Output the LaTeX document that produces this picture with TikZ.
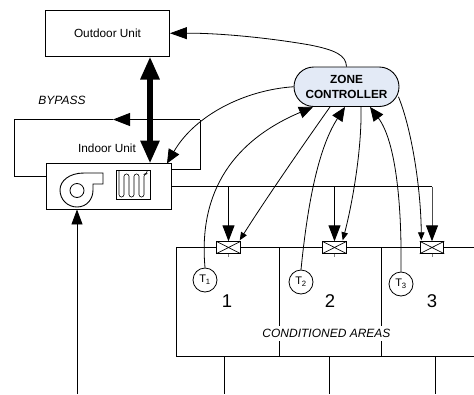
\documentclass[tikz,border=0pt]{standalone}
\usepackage{fontspec}
\setmainfont{Liberation Sans}
\usetikzlibrary{arrows.meta,calc,shapes.misc}
\definecolor{ctrlfill}{HTML}{E3EAF6}
\tikzset{
  box/.style={draw,line width=0.9pt,inner sep=0pt,fill=white},
  valve/.style={box,minimum width=23.5pt,minimum height=11.5pt,append after command={
    (\tikzlastnode.north west) edge[line width=.7pt] (\tikzlastnode.south east)
    (\tikzlastnode.south west) edge[line width=.7pt] (\tikzlastnode.north east)
    (\tikzlastnode.south) edge[line width=.6pt,gray] +(0,3.5)}},
  sensor/.style={circle,draw,line width=.8pt,minimum size=24pt,inner sep=0pt,fill=white,font=\fontsize{11}{11}\selectfont},
  wire/.style={line width=.9pt},
  big/.style={-{Triangle[length=16pt,width=12pt]},line width=.9pt},
  sig/.style={line width=.8pt,-{Triangle[length=14pt,width=12pt]}},
  small sig/.style={line width=.8pt,-{Triangle[length=8pt,width=6.5pt]}},
  lab/.style={font=\fontsize{11.8}{13}\selectfont},
  num/.style={font=\fontsize{18.5}{20}\selectfont},
  ital/.style={font=\fontsize{12}{13}\selectfont\itshape}
}
\begin{document}
\begin{tikzpicture}[x=1pt,y=-1pt]
\useasboundingbox (0,0) rectangle (474,394);
% areas
\draw[wire] (474,247.5) -- (176.5,247.5) -- (176.5,356) -- (474,356);
\coordinate (d1t) at (279,247.5);
\coordinate (d1b) at (279,356);
\coordinate (d2t) at (381,247.5);
\coordinate (d2b) at (381,356);
\draw[wire] (d1t) -- (d1b);
\draw[wire] (d2t) -- (d2b);
\draw[wire] (224.5,356) -- (224.5,394);
\draw[wire] (329.5,356) -- (329.5,394);
\draw[wire] (435,356) -- (435,394);
\node[ital,fill=white,inner xsep=1pt,inner ysep=3pt] (ca) at (326.5,333.5) {CONDITIONED AREAS};
% units
\node[box,minimum width=124.5pt,minimum height=45.5pt] (outdoor) at (107.25,33.25) {};
\node[lab] (outlab) at (107.5,33) {Outdoor Unit};
\node[box,minimum width=124.5pt,minimum height=45.5pt] (indoor) at (108.75,186.25) {};
\node[lab] (inlab) at (107,148) {Indoor Unit};
\node[ital] (bp) at (62,100) {BYPASS};
% bypass
\coordinate (bp1) at (200,169);
\coordinate (bp2) at (200,119.5);
\coordinate (bp3) at (113,119.5);
\coordinate (bp4) at (14,119.5);
\coordinate (bp5) at (14,176.5);
\draw[wire] (indoor.east |- bp1) -- (bp1) -- (bp2);
\draw[line width=.9pt,-{Triangle[length=17pt,width=13pt]}] (bp2) -- (bp3);
\draw[wire] (bp3) -- (bp4) -- (bp5) -- (indoor.west |- bp5);
% refrigerant
\draw[line width=6pt,{Triangle[length=23pt,width=18pt]}-{Triangle[length=23pt,width=18pt]}] (150,56.5) -- (150,163.5);
% fan
\draw[line width=.9pt] (103,173) -- (84,173) .. controls (69,173) and (60,181) .. (60,190)
  .. controls (60,200) and (68,207) .. (77,207) .. controls (87,207) and (93,199) .. (93,190)
  -- (93,184) -- (103,184) -- cycle;
\node[circle,draw,line width=.8pt,minimum size=14pt,inner sep=0pt] (fanhub) at (77,190.5) {};
% coil
\node[box,minimum width=34pt,minimum height=29pt] (coil) at (133,184.5) {};
\draw[line width=.6pt,rounded corners=2.4pt] (119,170) -- (119,197) -- (124,197) -- (124,174) -- (129,174)
 -- (129,197) -- (134,197) -- (134,174) -- (139,174) -- (139,197) -- (144,197) -- (144,174) -- (147,174) -- (147,170);
% controller
\node[box,rounded rectangle,fill=ctrlfill,minimum width=105pt,minimum height=39.5pt,align=center,
  font=\fontsize{11.8}{15}\selectfont\bfseries] (ctrl) at (346.5,86.75) {ZONE\\CONTROLLER};
% valves
\node[valve] (v1) at (228.5,247.5) {};
\node[valve] (v2) at (334.5,247.5) {};
\node[valve] (v3) at (432,247.5) {};
% sensors
\node[sensor] (t1) at (205,280) {T\textsubscript{1}};
\node[sensor] (t2) at (301,282) {T\textsubscript{2}};
\node[sensor] (t3) at (401,284) {T\textsubscript{3}};
\node[num] (n1) at (227,301) {1};
\node[num] (n2) at (330,301) {2};
\node[num] (n3) at (432,301) {3};
% supply duct
\coordinate (s0) at (432,186.5);
\draw[wire] (indoor.east |- s0) -- (s0);
\draw[big] (v1.north |- s0) -- (v1.north);
\draw[big] (v2.north |- s0) -- (v2.north);
\draw[line width=1pt,black!70,-{Triangle[length=16pt,width=12pt,black]}] (s0) -- (v3.north);
\draw[-{Triangle[length=15pt,width=11pt]},line width=.9pt] (77,394) -- (indoor.south -| 77,210);
% controller signals
\draw[line width=.8pt,-{Triangle[length=17pt,width=12pt]}] (ctrl.north) .. controls (346,55) and (335,50) .. (310,45) .. controls (270,38) and (220,33) .. (outdoor.east);
\draw[sig] (ctrl.west) .. controls (245,90) and (195,115) .. (167,163.5);
\draw[sig] (t1.north) .. controls (198,190) and (235,140) .. (ctrl.south -| 313,106.5);
\draw[small sig] (ctrl.south -| 330,106.5) .. controls (310,135) and (265,200) .. ($(v1.north east)+(-1,-1)$);
\draw[sig] (t2.north) .. controls (307,210) and (317,150) .. (ctrl.south -| 345,106.5);
\draw[small sig] (ctrl.south -| 361,106.5) .. controls (362,150) and (352,205) .. ($(v2.north east)+(-4,-1)$);
\draw[sig] (t3.north) .. controls (402,200) and (395,140) .. (ctrl.south -| 370,106.5);
\draw[small sig] ($(ctrl.east)+(-1,10)$) .. controls (412,130) and (421,190) .. ($(v3.north west)+(1.5,-1)$);
\end{tikzpicture}
\end{document}
